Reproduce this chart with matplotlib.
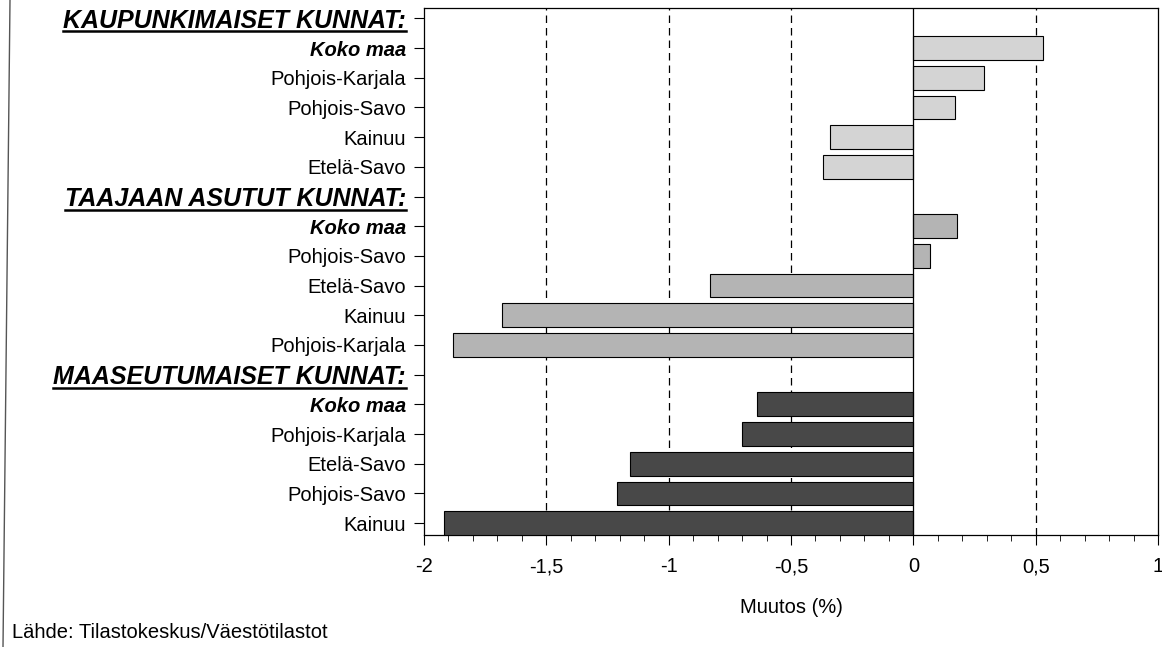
import matplotlib.pyplot as plt
from matplotlib.lines import Line2D
from matplotlib.ticker import MultipleLocator, FixedLocator

plt.rcParams['font.family'] = ['Liberation Sans', 'DejaVu Sans']

# rows top to bottom, headers marked with None value
labels = ['KAUPUNKIMAISET KUNNAT:', 'Koko maa', 'Pohjois-Karjala', 'Pohjois-Savo',
          'Kainuu', 'Etelä-Savo',
          'TAAJAAN ASUTUT KUNNAT:', 'Koko maa', 'Pohjois-Savo', 'Etelä-Savo',
          'Kainuu', 'Pohjois-Karjala',
          'MAASEUTUMAISET KUNNAT:', 'Koko maa', 'Pohjois-Karjala', 'Etelä-Savo',
          'Pohjois-Savo', 'Kainuu']
values = [None, 0.53, 0.29, 0.17, -0.34, -0.37,
          None, 0.18, 0.07, -0.83, -1.68, -1.88,
          None, -0.64, -0.70, -1.16, -1.21, -1.92]
group_of_row = [0] * 6 + [1] * 6 + [2] * 6
group_colors = ['#d4d4d4', '#b4b4b4', '#484848']
headers = {'KAUPUNKIMAISET KUNNAT:', 'TAAJAAN ASUTUT KUNNAT:', 'MAASEUTUMAISET KUNNAT:'}

fig = plt.figure(figsize=(11.62, 6.47), dpi=100)
ax = fig.add_axes([424 / 1162, 112 / 647, 734 / 1162, 527 / 647])

for i, (v, g) in enumerate(zip(values, group_of_row)):
    if v is None:
        continue
    ax.barh(i, v, height=0.8, color=group_colors[g], edgecolor='black',
            linewidth=0.8, zorder=3)

ax.set_xlim(-2, 1)
ax.set_ylim(17.4, -0.35)

for x in [-1.5, -1, -0.5, 0.5]:
    ax.axvline(x, color='black', linestyle=(0, (6, 4)), linewidth=0.9, zorder=1)
ax.axvline(0, color='black', linewidth=0.9, zorder=4)

ax.xaxis.set_major_locator(MultipleLocator(0.5))
ax.xaxis.set_minor_locator(MultipleLocator(0.1))
ax.set_xticklabels([f'{t:g}'.replace('.', ',') for t in ax.get_xticks()])
ax.tick_params(axis='x', which='major', length=7, width=0.8, labelsize=14.5, pad=9)
ax.tick_params(axis='x', which='minor', length=4, width=0.6)
ax.yaxis.set_major_locator(FixedLocator(range(len(labels))))
ax.set_yticklabels(labels)
ax.tick_params(axis='y', length=7, width=0.8, labelsize=14.5, pad=6)

for lab in ax.get_yticklabels():
    t = lab.get_text()
    if t in headers:
        lab.set_fontsize(18)
        lab.set_fontweight('bold')
        lab.set_fontstyle('italic')
    elif t == 'Koko maa':
        lab.set_fontweight('bold')
        lab.set_fontstyle('italic')

for sp in ax.spines.values():
    sp.set_linewidth(0.9)

ax.set_xlabel('Muutos (%)', fontsize=14.5, labelpad=16)

fig.text(12 / 1162, 1 - 633 / 647, 'Lähde: Tilastokeskus/Väestötilastot',
         fontsize=14.5, va='center', ha='left')
fig.add_artist(Line2D([10 / 1162, 3 / 1162], [1, 0], color='#555555', linewidth=1.0))

# underline the group headers
fig.canvas.draw()
renderer = fig.canvas.get_renderer()
inv = fig.transFigure.inverted()
for lab in ax.get_yticklabels():
    if lab.get_text() in headers:
        bb = lab.get_window_extent(renderer)
        (x0, y0), (x1, _) = inv.transform([(bb.x0, bb.y0), (bb.x1, bb.y1)])
        fig.add_artist(Line2D([x0, x1], [y0 + 1.5 / 647, y0 + 1.5 / 647],
                              color='black', linewidth=1.8))

fig.savefig('out.png', dpi=100)
